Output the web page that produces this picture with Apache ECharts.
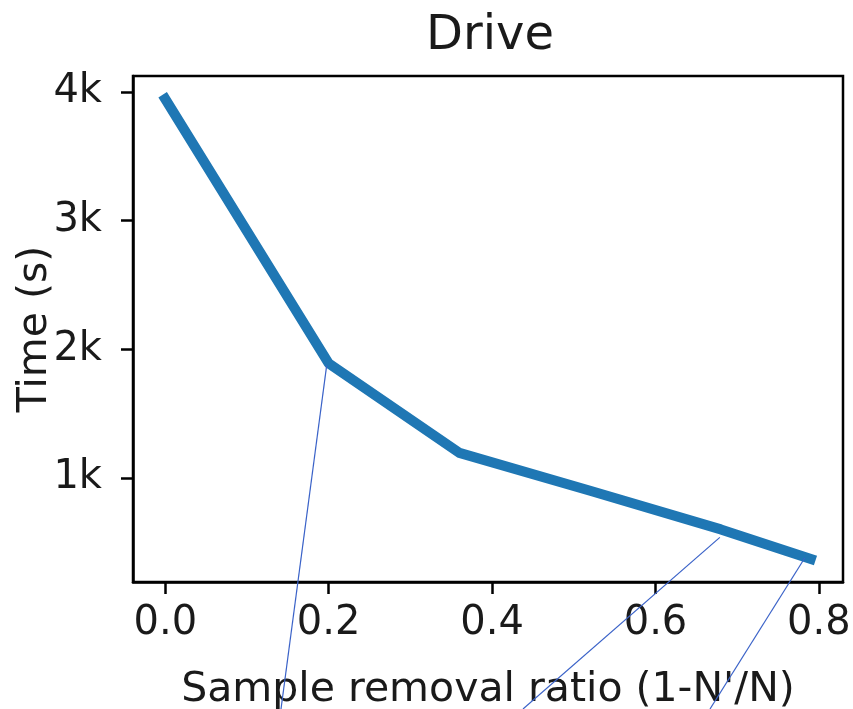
<!DOCTYPE html>
<html>
<head>
<meta charset="utf-8">
<script src="https://cdn.jsdelivr.net/npm/echarts@6/dist/echarts.min.js"></script>
<style>
html,body{margin:0;padding:0;background:#fff;}
#chart{width:853px;height:709px;}
</style>
</head>
<body>
<div id="chart"></div>
<script>
// ---- data ----
const titleText = 'Drive';
const xName = "Sample removal ratio (1-N'/N)";
const yName = 'Time (s)';
const ratios = [0, 0.2, 0.36, 0.52, 0.68, 0.79];
const times = [3945, 1890, 1195, 900, 600, 370];
const xTicks = [0, 0.2, 0.4, 0.6, 0.8];
const yTicks = [1000, 2000, 3000, 4000];
const yTickLabels = ['1k', '2k', '3k', '4k'];
// indices of points that carry thin leader lines
const leaderIdx = [1, 4, 5];

const FONT = 'DejaVu Sans';
const xMinD = Math.min(...ratios), xMaxD = Math.max(...ratios);
const yMinD = Math.min(...times), yMaxD = Math.max(...times);
const xPad = (xMaxD - xMinD) * 0.05, yPad = (yMaxD - yMinD) * 0.05;

const chart = echarts.init(document.getElementById('chart'), null, {renderer: 'canvas'});
const option = {
  animation: false,
  backgroundColor: '#fff',
  title: {
    text: titleText,
    left: 485,
    textAlign: 'center',
    top: 8,
    textStyle: {fontFamily: FONT, fontSize: 48, fontWeight: 'normal', color: '#1a1a1a'}
  },
  grid: {
    left: 133, right: 10, top: 76, bottom: 127,
    outerBoundsMode: 'none', containLabel: false,
    show: true, borderColor: '#000', borderWidth: 2.5, backgroundColor: 'transparent'
  },
  xAxis: {
    type: 'value',
    min: xMinD - xPad, max: xMaxD + xPad,
    name: xName, nameLocation: 'middle', nameGap: 88, nameMoveOverlap: false,
    nameTextStyle: {fontFamily: FONT, fontSize: 41, color: '#1a1a1a'},
    axisLine: {show: true, onZero: false, lineStyle: {color: '#000', width: 2.5}},
    axisTick: {show: true, customValues: xTicks, length: 12, lineStyle: {color: '#000', width: 2.5}},
    axisLabel: {customValues: xTicks, margin: 22, fontFamily: FONT, fontSize: 40, color: '#1a1a1a',
      formatter: v => v.toFixed(1)},
    splitLine: {show: false}
  },
  yAxis: {
    type: 'value',
    min: yMinD - yPad, max: yMaxD + yPad,
    name: yName, nameLocation: 'middle', nameGap: 77, nameMoveOverlap: false,
    nameTextStyle: {fontFamily: FONT, fontSize: 41, color: '#1a1a1a'},
    axisLine: {show: true, onZero: false, lineStyle: {color: '#000', width: 2.5}},
    axisTick: {show: true, customValues: yTicks, length: 12, lineStyle: {color: '#000', width: 2.5}},
    axisLabel: {customValues: yTicks, margin: 31, fontFamily: FONT, fontSize: 40, color: '#1a1a1a',
      formatter: v => yTickLabels[yTicks.indexOf(Math.round(v))] ?? ''},
    splitLine: {show: false}
  },
  series: [{
    type: 'line',
    data: ratios.map((r, i) => [r, times[i]]),
    showSymbol: false,
    symbol: 'none',
    lineStyle: {color: '#1f77b4', width: 10, cap: 'square', join: 'round'},
    z: 2
  }]
};
chart.setOption(option);

// thin leader lines from selected points down past the bottom edge
const leaderEndX = [281, 523, 710];
const leaderOffset = [[-2, 2], [-1, 8], [-6, -1]];
const g = leaderIdx.map((idx, k) => {
  const p = chart.convertToPixel({gridIndex: 0}, [ratios[idx], times[idx]]);
  return {
    type: 'line',
    shape: {x1: p[0] + leaderOffset[k][0], y1: p[1] + leaderOffset[k][1], x2: leaderEndX[k], y2: 709},
    style: {stroke: '#3a62c8', lineWidth: 1.2},
    z: 100
  };
});
chart.setOption({graphic: g});
</script>
</body>
</html>
